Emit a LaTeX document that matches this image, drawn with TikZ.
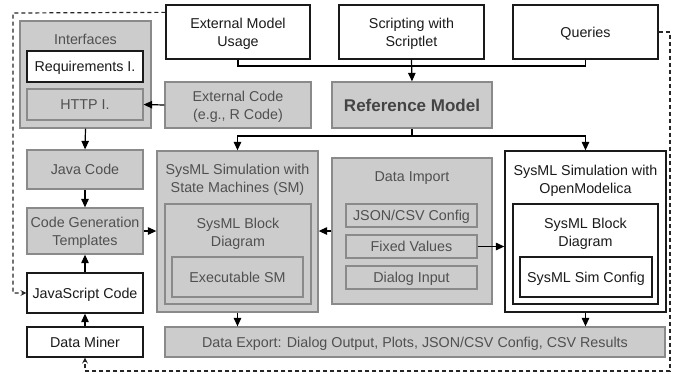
\documentclass[tikz,border=0pt]{standalone}
\usepackage{fontspec}
\setmainfont{Liberation Sans}
\usetikzlibrary{arrows.meta,calc}
\definecolor{boxgray}{HTML}{CCCCCC}
\definecolor{bordgray}{HTML}{8A8A8A}
\definecolor{txtgray}{HTML}{505050}
\definecolor{txtblack}{HTML}{1A1A1A}
\tikzset{
  base/.style={rectangle, inner sep=0pt, line width=1.3pt, align=center, text depth=0pt,
    font=\fontsize{14.3}{18}\selectfont},
  wbox/.style={base, draw=txtblack, fill=white, text=txtblack},
  gbox/.style={base, draw=bordgray, fill=boxgray, text=txtgray},
  gtitle/.style={inner sep=0pt, align=center, text=txtgray, text depth=0pt, font=\fontsize{14.3}{18}\selectfont},
  wtitle/.style={inner sep=0pt, align=center, text=txtblack, text depth=0pt, font=\fontsize{14.3}{18}\selectfont},
  conn/.style={line width=1.2pt, draw=black},
  arr/.style={conn, -{Triangle[length=8.5pt,width=7.5pt]}},
  dashline/.style={line width=1.2pt, draw=black!85, dash pattern=on 4pt off 3pt},
  dasharr/.style={dashline, -{Stealth[length=6pt,width=6pt,inset=2.5pt]}}
}
\begin{document}
\begin{tikzpicture}[x=1pt,y=-1pt]
\useasboundingbox (0,0) rectangle (680,373);
% top row
\node[wbox, minimum width=144pt, minimum height=54pt] (ext) at (238,32) {External Model\\Usage};
\node[wbox, minimum width=145pt, minimum height=54pt] (script) at (411.5,32) {Scripting with\\Scriptlet};
\node[wbox, minimum width=145pt, minimum height=54pt] (queries) at (585.5,32) {Queries};
% interfaces
\node[gbox, minimum width=131pt, minimum height=107pt] (interfaces) at (85.5,74.5) {};
\node[gtitle] (interfacesT) at (85.5,39) {Interfaces};
\node[wbox, minimum width=116pt, minimum height=31pt] (req) at (85,66.5) {Requirements I.};
\node[gbox, minimum width=116pt, minimum height=31pt] (http) at (85,104.5) {HTTP I.};
% external code and reference model
\node[gbox, minimum width=146pt, minimum height=46pt] (extcode) at (238,105) {External Code\\(e.g., R Code)};
\node[gbox, minimum width=160pt, minimum height=46pt, font=\fontsize{17}{20}\selectfont\bfseries, text=txtgray!85!black] (refmodel) at (412,105) {Reference Model};
% left column
\node[gbox, minimum width=116pt, minimum height=39pt] (java) at (85,169.5) {Java Code};
\node[gbox, minimum width=116pt, minimum height=46pt] (codegen) at (85,231) {Code Generation\\Templates};
\node[wbox, minimum width=116pt, minimum height=40pt] (js) at (85,293) {JavaScript Code};
\node[wbox, minimum width=116pt, minimum height=30pt] (miner) at (85,342) {Data Miner};
% state machine simulation
\node[gbox, minimum width=161pt, minimum height=161pt] (sm) at (237.5,231.5) {};
\node[gtitle] (smT) at (237.5,178.5) {SysML Simulation with\\State Machines (SM)};
\node[gbox, minimum width=146pt, minimum height=100pt] (smbd) at (238,254) {};
\node[gtitle] (smbdT) at (238,232) {SysML Block\\Diagram};
\node[gbox, minimum width=131pt, minimum height=40pt] (exsm) at (237.5,277) {Executable SM};
% data import
\node[gbox, minimum width=160pt, minimum height=146pt] (imp) at (412,231) {};
\node[gtitle] (impT) at (412,177) {Data Import};
\node[gbox, minimum width=131pt, minimum height=23pt] (json) at (411.5,215.5) {JSON/CSV Config};
\node[gbox, minimum width=131pt, minimum height=23pt] (fixed) at (411.5,246.5) {Fixed Values};
\node[gbox, minimum width=131pt, minimum height=23pt] (dialog) at (411.5,277.5) {Dialog Input};
% openmodelica
\node[wbox, minimum width=161pt, minimum height=161pt] (om) at (585.5,231.5) {};
\node[wtitle] (omT) at (585.5,179) {SysML Simulation with\\OpenModelica};
\node[wbox, minimum width=145pt, minimum height=100pt] (ombd) at (585.5,254) {};
\node[wtitle] (ombdT) at (585.5,232) {SysML Block\\Diagram};
\node[wbox, minimum width=132pt, minimum height=40pt] (simcfg) at (586,277) {SysML Sim Config};
% export
\node[gbox, minimum width=500pt, minimum height=30pt] (export) at (415,342) {Data Export: Dialog Output, Plots, JSON/CSV Config, CSV Results};
% junctions
\coordinate (j1) at (411.5,66);
\coordinate (j2) at (412,136);
\coordinate (dTL) at (13,13);
\coordinate (dTR) at (670,32);
\coordinate (dBR) at (670,371);
% connectors
\draw[conn] (ext.south) |- (j1);
\draw[conn] (queries.south) |- (j1);
\draw[arr] (script.south) -- (refmodel.north);
\draw[conn] (refmodel.south) -- (j2);
\draw[arr] (j2) -| (sm.north);
\draw[arr] (j2) -| (om.north);
\draw[arr] (extcode.west) -- (http.east);
\draw[arr] (interfaces.south) -- (java.north);
\draw[arr] (java.south) -- (codegen.north);
\draw[arr] (js.north) -- (codegen.south);
\draw[arr] (miner.north) -- (js.south);
\draw[arr] (codegen.east) -- (sm.west |- codegen.east);
\draw[arr] (imp.west) -- (sm.east |- imp.west);
\draw[arr] (fixed.east) -- (om.west |- fixed.east);
\draw[arr] (sm.south) -- (sm.south |- export.north);
\draw[arr] (om.south) -- (om.south |- export.north);
% dashed
\draw[dasharr] ([yshift=-8pt]ext.north west) -- (dTL) |- (js.west);
\draw[dasharr] (queries.east) -- (dTR) -- (dBR) -| (miner.south);
\end{tikzpicture}
\end{document}
